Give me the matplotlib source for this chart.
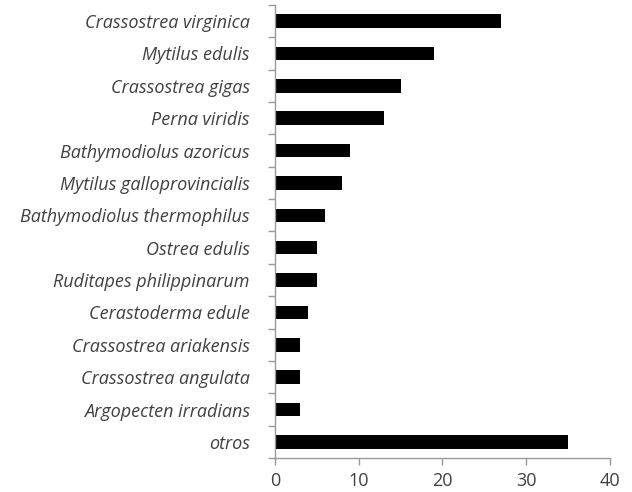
import matplotlib
matplotlib.use('Agg')
import matplotlib.pyplot as plt
import numpy as np

species = [
    "Crassostrea virginica",
    "Mytilus edulis",
    "Crassostrea gigas",
    "Perna viridis",
    "Bathymodiolus azoricus",
    "Mytilus galloprovincialis",
    "Bathymodiolus thermophilus",
    "Ostrea edulis",
    "Ruditapes philippinarum",
    "Cerastoderma edule",
    "Crassostrea ariakensis",
    "Crassostrea angulata",
    "Argopecten irradians",
    "otros",
]
counts = [27, 19, 15, 13, 9, 8, 6, 5, 5, 4, 3, 3, 3, 35]
x_ticks = [0, 10, 20, 30, 40]

plt.rcParams['font.family'] = ['Open Sans', 'DejaVu Sans']

fig = plt.figure(figsize=(6.32, 4.92), dpi=100)
ax = fig.add_axes([0.435, 0.069, 0.53, 0.921])

n = len(species)
pos = np.arange(n)[::-1]
ax.barh(pos, counts, height=0.42, color='black')

ax.set_xlim(0, 40)
ax.set_ylim(-0.5, n - 0.5)
ax.set_xticks(x_ticks)
ax.set_xticklabels([str(t) for t in x_ticks], fontsize=13, color='#404040')
ax.set_yticks(pos)
ax.set_yticklabels(species, fontsize=13, style='italic', color='#404040')
ax.set_yticks(np.arange(n + 1) - 0.5, minor=True)

ax.yaxis.set_tick_params(which='major', length=0, pad=18)
ax.yaxis.set_tick_params(which='minor', length=5, color='#999999', width=1)
ax.xaxis.set_tick_params(length=5, color='#999999', width=1, pad=5)

for s in ['top', 'right']:
    ax.spines[s].set_visible(False)
for s in ['left', 'bottom']:
    ax.spines[s].set_color('#999999')
    ax.spines[s].set_linewidth(1)

fig.savefig("out.png", dpi=100)
